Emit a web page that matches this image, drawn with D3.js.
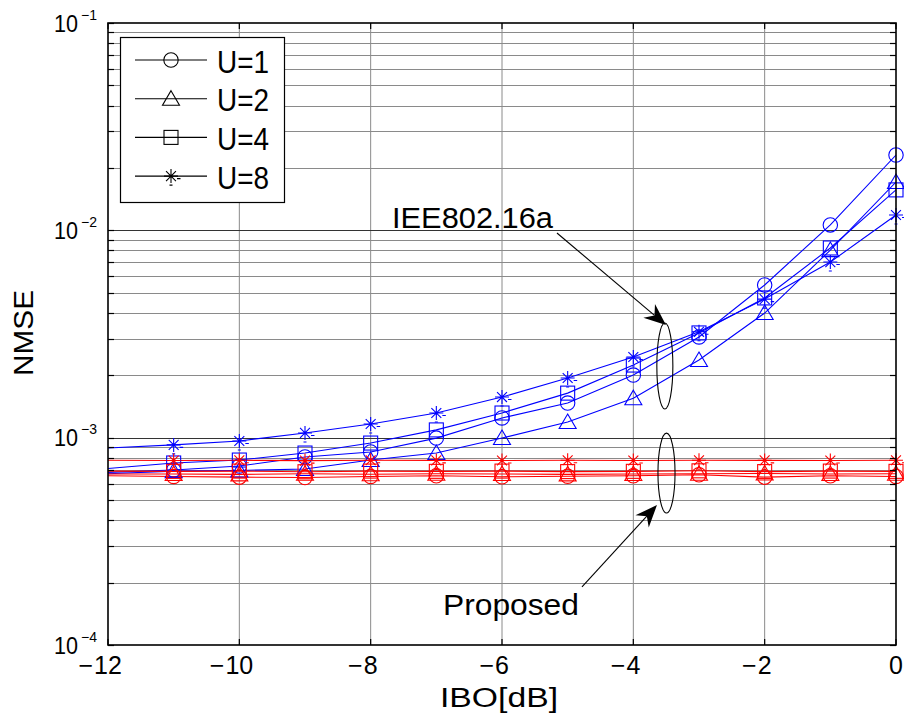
<!DOCTYPE html>
<html>
<head>
<meta charset="utf-8">
<script src="https://cdn.jsdelivr.net/npm/d3@7"></script>
<style>
  html, body { margin: 0; padding: 0; background: #fff; }
  svg text { font-family: "Liberation Sans", Arial, sans-serif; fill: #000; }
</style>
</head>
<body>
<svg id="chart" width="904" height="718"></svg>
<script>
// IBO sweep (dB); markers are placed from -11 dB onward
const ibo = [-12, -11, -10, -9, -8, -7, -6, -5, -4, -3, -2, -1, 0];
const markerFrom = -11;
const xTicks = [-12, -10, -8, -6, -4, -2, 0];
const yDecades = [1e-4, 1e-3, 1e-2, 1e-1];
const yTickExp = ["\u22124", "\u22123", "\u22122", "\u22121"];

const userCounts = ["U=1", "U=2", "U=4", "U=8"];
const markerShapes = ["circle", "triangle", "square", "star"];

// IEEE802.16a NMSE
const ieeeU1 = [0.00068, 0.000698, 0.00073, 0.000807, 0.000853, 0.000995, 0.001245, 0.001469, 0.002004, 0.00306, 0.00545, 0.01062, 0.02308];
const ieeeU2 = [0.00067, 0.00069, 0.000695, 0.000706, 0.00078, 0.000843, 0.000996, 0.00119, 0.00155, 0.00237, 0.00399, 0.00803, 0.0171];
const ieeeU4 = [0.00071, 0.000755, 0.00078, 0.000843, 0.000942, 0.00109, 0.001315, 0.00164, 0.00224, 0.0032, 0.00472, 0.00822, 0.01567];
const ieeeU8 = [0.000891, 0.000923, 0.000964, 0.001054, 0.001164, 0.001315, 0.00157, 0.00194, 0.00245, 0.00324, 0.00466, 0.00703, 0.01186];

// Proposed NMSE
const propU1 = [0.000655, 0.00065, 0.000645, 0.000642, 0.00065, 0.000655, 0.000648, 0.000652, 0.000655, 0.000662, 0.000645, 0.000655, 0.00065];
const propU2 = [0.000668, 0.000668, 0.000665, 0.00067, 0.000666, 0.00067, 0.000668, 0.000665, 0.000668, 0.00067, 0.000672, 0.000668, 0.00067];
const propU4 = [0.00069, 0.000688, 0.00069, 0.000685, 0.00069, 0.000688, 0.00069, 0.000686, 0.000688, 0.000692, 0.000686, 0.00069, 0.000688];
const propU8 = [0.000778, 0.000776, 0.000778, 0.000775, 0.000778, 0.000777, 0.000776, 0.000778, 0.000776, 0.000778, 0.000777, 0.000776, 0.000778];

const ieeeSeries = [ieeeU1, ieeeU2, ieeeU4, ieeeU8];
const propSeries = [propU1, propU2, propU4, propU8];

// Annotation anchors in data units
const ieeeLabel = { text: "IEE802.16a", x: -7.675, y: 0.01026, width: 161 };
const ieeeArrow = { x1: -5.163, y1: 0.00971, x2: -3.503, y2: 0.00349 };
const ieeeEllipse = { cx: -3.52, yTop: 0.003573, yBottom: 0.001374, rx: 0.122 };
const propLabel = { text: "Proposed", x: -6.899, y: 0.0001396, width: 136 };
const propArrow = { x1: -4.782, y1: 0.0001905, x2: -3.64, y2: 0.000473 };
const propEllipse = { cx: -3.495, yTop: 0.001052, yBottom: 0.000433, rx: 0.13 };

const svg = d3.select("#chart");
const pL = 108, pT = 23, pR = 896, pB = 645;

const x = d3.scaleLinear().domain([-12, 0]).range([pL, pR]);
const y = d3.scaleLog().domain([1e-4, 1e-1]).range([pB, pT]);

// minor log ticks (2..9 per decade)
const minorVals = [];
for (let d = 0; d < yDecades.length - 1; d++) {
  for (let k = 2; k <= 9; k++) minorVals.push(yDecades[d] * k);
}

const clipId = "plot-clip";
svg.append("defs").append("clipPath").attr("id", clipId)
  .append("rect").attr("x", pL).attr("y", pT).attr("width", pR - pL).attr("height", pB - pT);

// grid
const grid = svg.append("g");
grid.selectAll(".gx").data(xTicks.slice(1, -1)).join("line")
  .attr("x1", d => x(d)).attr("x2", d => x(d))
  .attr("y1", pT).attr("y2", pB)
  .attr("stroke", "#8a8a8a").attr("stroke-width", 1);
grid.selectAll(".gmin").data(minorVals).join("line")
  .attr("x1", pL).attr("x2", pR)
  .attr("y1", d => Math.round(y(d)) + 0.5).attr("y2", d => Math.round(y(d)) + 0.5)
  .attr("stroke", "#8a8a8a").attr("stroke-width", 1.1);
grid.selectAll(".gmaj").data(yDecades.slice(1, -1)).join("line")
  .attr("x1", pL).attr("x2", pR)
  .attr("y1", d => Math.round(y(d)) + 0.5).attr("y2", d => Math.round(y(d)) + 0.5)
  .attr("stroke", "#333").attr("stroke-width", 1.1);

// marker drawing
function drawMarker(g, shape, cx, cy, color) {
  const s = g.append("g").attr("transform", `translate(${cx},${cy})`)
    .attr("fill", "none").attr("stroke", color).attr("stroke-width", 1.1);
  if (shape === "circle") {
    s.append("circle").attr("r", 7.2);
  } else if (shape === "triangle") {
    s.append("path").attr("d", "M0,-8L8.5,6.5L-8.5,6.5Z");
  } else if (shape === "square") {
    s.append("rect").attr("x", -7).attr("y", -7).attr("width", 14).attr("height", 14);
  } else {
    const r = 7, q = r * 0.7071;
    s.append("path").attr("d",
      `M${-r},0L${r},0M0,${-r}L0,${r}M${-q},${-q}L${q},${q}M${-q},${q}L${q},${-q}` +
      `M6,2.5L9.5,2.5M-1.5,9L1.5,9`);
  }
}

const line = d3.line().x((d, i) => x(ibo[i])).y(d => y(d));
const plot = svg.append("g").attr("clip-path", `url(#${clipId})`);
const markLayer = svg.append("g");

function drawGroup(seriesList, color) {
  seriesList.forEach(vals => {
    plot.append("path").datum(vals).attr("d", line)
      .attr("fill", "none").attr("stroke", color).attr("stroke-width", 1.1);
  });
  seriesList.forEach((vals, si) => {
    vals.forEach((v, i) => {
      if (ibo[i] >= markerFrom) drawMarker(markLayer, markerShapes[si], x(ibo[i]), y(v), color);
    });
  });
}
drawGroup(ieeeSeries, "#0000ff");
drawGroup(propSeries, "#ff0000");

// frame and ticks
const axes = svg.append("g");
axes.append("rect").attr("x", pL).attr("y", pT).attr("width", pR - pL).attr("height", pB - pT)
  .attr("fill", "none").attr("stroke", "#000").attr("stroke-width", 1.6);
const tl = 6;
xTicks.forEach(t => {
  axes.append("line").attr("x1", x(t)).attr("x2", x(t)).attr("y1", pB).attr("y2", pB - tl).attr("stroke", "#000").attr("stroke-width", 1.2);
  axes.append("line").attr("x1", x(t)).attr("x2", x(t)).attr("y1", pT).attr("y2", pT + tl).attr("stroke", "#000").attr("stroke-width", 1.2);
});
minorVals.concat(yDecades).forEach(v => {
  const yy = Math.round(y(v)) + 0.5;
  axes.append("line").attr("x1", pL).attr("x2", pL + tl).attr("y1", yy).attr("y2", yy).attr("stroke", "#000").attr("stroke-width", 1.2);
  axes.append("line").attr("x1", pR).attr("x2", pR - tl).attr("y1", yy).attr("y2", yy).attr("stroke", "#000").attr("stroke-width", 1.2);
});

// x tick labels: digits centred on the tick, minus sign hanging to the left
const xLab = svg.append("g");
xTicks.forEach(t => {
  const digits = String(Math.abs(t));
  const txt = xLab.append("text").attr("x", x(t)).attr("y", 674)
    .attr("text-anchor", "middle").attr("font-size", 25).text(digits);
  if (t < 0) {
    const w = txt.node().getComputedTextLength();
    xLab.append("text").attr("x", x(t) - w / 2 - 1).attr("y", 674)
      .attr("text-anchor", "end").attr("font-size", 25).text("\u2212");
  }
});

// y tick labels: 10 with exponent
const yLab = svg.append("g");
yDecades.forEach((v, i) => {
  const yy = y(v);
  yLab.append("text").attr("x", 54).attr("y", yy + 8.5)
    .attr("font-size", 23).attr("textLength", 24).attr("lengthAdjust", "spacingAndGlyphs").text("10");
  yLab.append("text").attr("x", 81).attr("y", yy - 3.5)
    .attr("font-size", 14).text(yTickExp[i]);
});

// axis titles
svg.append("text").attr("x", 499).attr("y", 707).attr("text-anchor", "middle")
  .attr("font-size", 27).attr("textLength", 118).attr("lengthAdjust", "spacingAndGlyphs").text("IBO[dB]");
svg.append("text").attr("transform", "translate(33,333) rotate(-90)").attr("text-anchor", "middle")
  .attr("font-size", 28).attr("textLength", 86).attr("lengthAdjust", "spacingAndGlyphs").text("NMSE");

// legend
const lg = svg.append("g");
lg.append("rect").attr("x", 120.5).attr("y", 37.5).attr("width", 164).attr("height", 165)
  .attr("fill", "#fff").attr("stroke", "#000").attr("stroke-width", 1.2);
userCounts.forEach((name, i) => {
  const ly = 60 + i * 38.7;
  lg.append("line").attr("x1", 135).attr("x2", 207).attr("y1", ly).attr("y2", ly)
    .attr("stroke", "#000").attr("stroke-width", 1.1);
  drawMarker(lg, markerShapes[i], 171, ly, "#000");
  lg.append("text").attr("x", 217).attr("y", ly + 12.5).attr("font-size", 31)
    .attr("textLength", 52).attr("lengthAdjust", "spacingAndGlyphs").text(name);
});

// annotations
const ann = svg.append("g");
function arrow(a) {
  const x1 = x(a.x1), y1 = y(a.y1), x2 = x(a.x2), y2 = y(a.y2);
  const ang = Math.atan2(y2 - y1, x2 - x1);
  const L = 22, W = 9, back = 15;
  const ux = Math.cos(ang), uy = Math.sin(ang), px = -uy, py = ux;
  const bx = x2 - ux * L, by = y2 - uy * L;
  const nx = x2 - ux * back, ny = y2 - uy * back;
  ann.append("line").attr("x1", x1).attr("y1", y1).attr("x2", nx).attr("y2", ny)
    .attr("stroke", "#000").attr("stroke-width", 1.1);
  ann.append("path").attr("d",
    `M${x2},${y2}L${bx + px * W},${by + py * W}L${nx},${ny}L${bx - px * W},${by - py * W}Z`)
    .attr("fill", "#000");
}
function ellipse(e) {
  const yt = y(e.yTop), yb = y(e.yBottom);
  ann.append("ellipse").attr("cx", x(e.cx)).attr("cy", (yt + yb) / 2)
    .attr("rx", x(e.cx + e.rx) - x(e.cx)).attr("ry", (yb - yt) / 2)
    .attr("fill", "none").attr("stroke", "#000").attr("stroke-width", 1.1);
}
ellipse(ieeeEllipse);
ellipse(propEllipse);
arrow(ieeeArrow);
arrow(propArrow);
ann.append("text").attr("x", x(ieeeLabel.x)).attr("y", y(ieeeLabel.y)).attr("font-size", 30)
  .attr("textLength", ieeeLabel.width).attr("lengthAdjust", "spacingAndGlyphs").text(ieeeLabel.text);
ann.append("text").attr("x", x(propLabel.x)).attr("y", y(propLabel.y)).attr("font-size", 30)
  .attr("textLength", propLabel.width).attr("lengthAdjust", "spacingAndGlyphs").text(propLabel.text);
</script>
</body>
</html>
